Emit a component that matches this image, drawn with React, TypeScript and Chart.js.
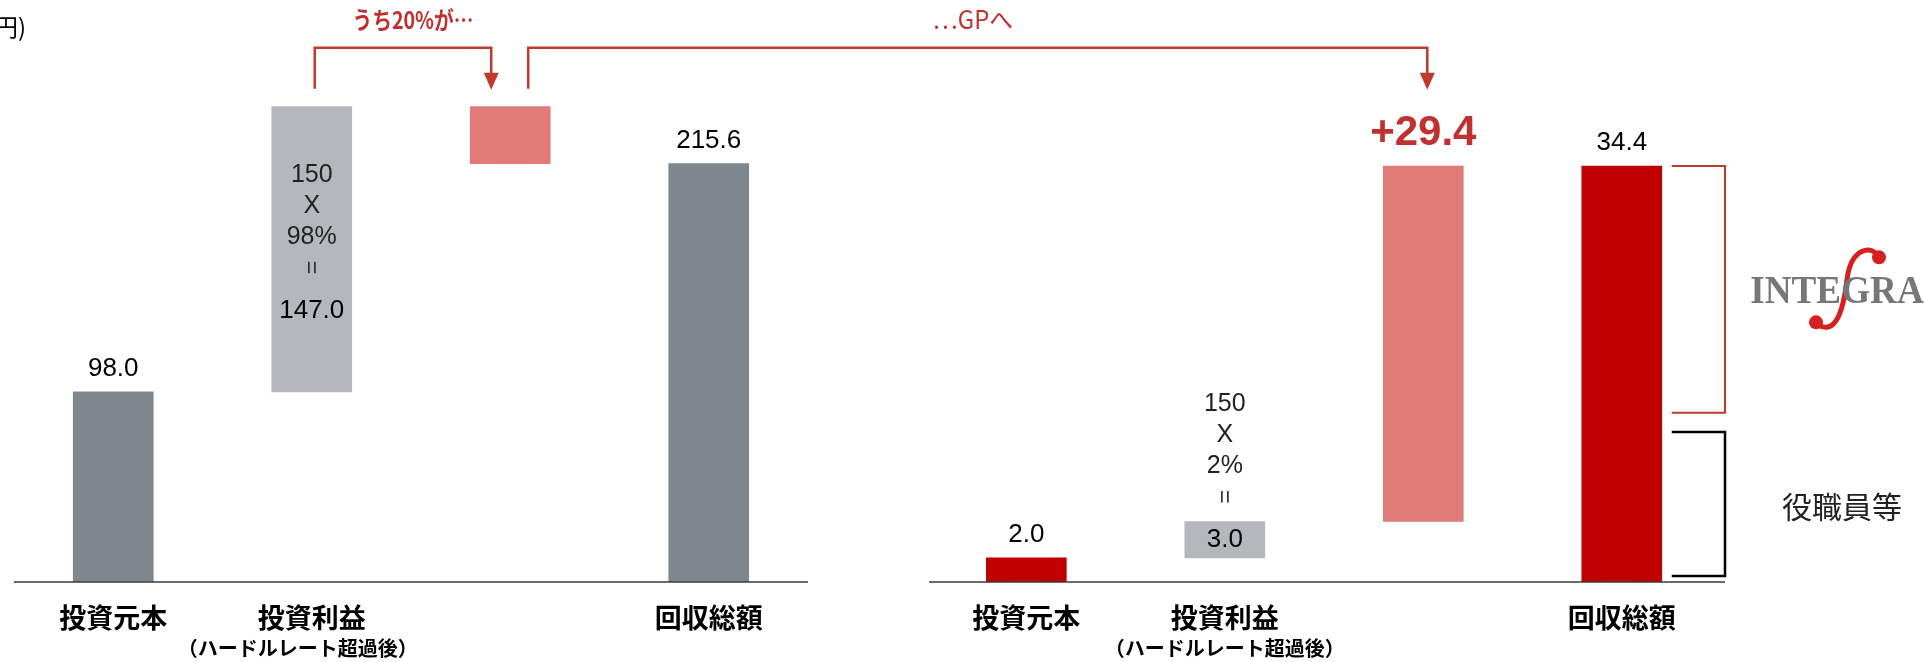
import React, { useEffect, useRef } from 'react';
import { Chart, registerables } from 'chart.js';

Chart.register(...registerables);

// ---- data ----
const leftLabels = ['投資元本', '投資利益', '', '回収総額'];
const rightLabels = ['投資元本', '投資利益', '', '回収総額'];
const subLabels = ['', '（ハードルレート超過後）', '', ''];
const leftX = [0, 1, 2, 3];
const rightX = [4.6, 5.6, 6.6, 7.6];
const leftFrom = [0, 98.0, 215.6, 0];
const leftTo = [98.0, 245.0, 245.0, 215.6];
const rightFrom = [0, 2.0, 5.0, 0];
const rightTo = [2.0, 5.0, 34.4, 34.4];
const leftColors = ['#7f878e', '#b4b7bb', '#e07b78', '#7f878e'];
const rightColors = ['#c00000', '#b4b7bb', '#e07b78', '#c00000'];
const leftValueLabels = ['98.0', '', '', '215.6'];
const rightValueLabels = ['2.0', '', '+29.4', '34.4'];
const leftFormula = ['150', 'X', '98%', '=', '147.0'];
const rightFormula = ['150', 'X', '2%', '=', '3.0'];
const integraRange = [14.0, 34.4];
const staffRange = [0.5, 12.4];
const unitLabel = '(億円)';
const noteLeft = 'うち20%が…';
const noteRight = '…GPへ';
const logoText = 'INTEGRA';
const staffText = '役職員等';

const tickPositions = [...leftX, ...rightX];
const tickLabels = [...leftLabels, ...rightLabels];
const tickSubLabels = [...subLabels, ...subLabels];
const subShift = [0, -14, 0, 0, 0, 0, 0, 0];

const CJK = '"Noto Sans CJK JP", "Noto Sans", sans-serif';
const NUM = '"Liberation Sans", Arial, sans-serif';
const RED_LINE = '#c0392b';
const RED_TEXT = '#c0302e';

const formulaOffsets = [-136, -105, -74, -43, 0];

function drawFormula(ctx: CanvasRenderingContext2D, lines: string[], cx: number, anchorY: number) {
  ctx.textAlign = 'center';
  ctx.textBaseline = 'middle';
  lines.forEach((t, i) => {
    const yy = anchorY + formulaOffsets[i];
    if (t === '=') {
      ctx.save();
      ctx.translate(cx, yy);
      ctx.rotate(Math.PI / 2);
      ctx.font = `24px ${NUM}`;
      ctx.fillStyle = '#333';
      ctx.fillText('=', 0, 1);
      ctx.restore();
    } else {
      const last = i === lines.length - 1;
      ctx.font = `${last ? 26 : 25}px ${NUM}`;
      ctx.fillStyle = last ? '#000' : '#222';
      ctx.fillText(t, cx, yy);
    }
  });
}

function squeezedText(ctx: CanvasRenderingContext2D, t: string, cx: number, cy: number, sx: number) {
  ctx.save();
  ctx.translate(cx, cy);
  ctx.scale(sx, 1);
  ctx.fillText(t, 0, 0);
  ctx.restore();
}

const annotations = {
  id: 'annotations',
  afterDraw(chart: any) {
    const { ctx, scales } = chart;
    const x = scales.x;
    const y = scales.y;
    const y2 = scales.y2;
    const lm = chart.getDatasetMeta(0).data;
    const rm = chart.getDatasetMeta(1).data;
    ctx.save();

    const line = (pts: number[][]) => {
      ctx.beginPath();
      ctx.moveTo(pts[0][0], pts[0][1]);
      for (let i = 1; i < pts.length; i++) ctx.lineTo(pts[i][0], pts[i][1]);
      ctx.stroke();
    };

    // baselines
    const base = y.getPixelForValue(0);
    ctx.strokeStyle = '#3a3a3a';
    ctx.lineWidth = 1.5;
    line([[x.getPixelForValue(-0.5), base], [x.getPixelForValue(3.5), base]]);
    line([[x.getPixelForValue(4.11), base], [x.getPixelForValue(8.12), base]]);

    // sub labels under ticks
    ctx.font = `bold 20px ${CJK}`;
    ctx.fillStyle = '#000';
    ctx.textAlign = 'center';
    ctx.textBaseline = 'middle';
    tickPositions.forEach((p, i) => {
      if (tickSubLabels[i]) ctx.fillText(tickSubLabels[i], x.getPixelForValue(p) + subShift[i], base + 66);
    });

    // value labels
    const drawVal = (el: any, t: string) => {
      if (!t) return;
      ctx.textAlign = 'center';
      ctx.textBaseline = 'alphabetic';
      if (t.startsWith('+')) {
        ctx.font = `bold 42px ${NUM}`;
        ctx.fillStyle = RED_TEXT;
        ctx.fillText(t, el.x, el.y - 21);
      } else {
        ctx.font = `26px ${NUM}`;
        ctx.fillStyle = '#000';
        ctx.fillText(t, el.x, el.y - 16);
      }
    };
    lm.forEach((el: any, i: number) => drawVal(el, leftValueLabels[i]));
    rm.forEach((el: any, i: number) => drawVal(el, rightValueLabels[i]));

    // formulas
    drawFormula(ctx, leftFormula, lm[1].x, lm[1].y + 204);
    drawFormula(ctx, rightFormula, rm[1].x, (rm[1].y + rm[1].base) / 2);

    // unit label
    ctx.font = `24px ${CJK}`;
    ctx.fillStyle = '#000';
    ctx.textAlign = 'right';
    ctx.textBaseline = 'middle';
    ctx.fillText(unitLabel, 26, 27);

    // arrows
    ctx.strokeStyle = RED_LINE;
    ctx.fillStyle = RED_LINE;
    ctx.lineWidth = 2.5;
    const yTop = lm[1].y - 59;
    const yStart = lm[1].y - 18;
    const tip = lm[2].y - 17;
    const xa = lm[1].x + 3;
    const xb = lm[2].x - 19;
    const xc = lm[2].x + 18;
    const xd = rm[2].x + 4;
    const head = (hx: number) => {
      ctx.beginPath();
      ctx.moveTo(hx - 7.5, tip - 17);
      ctx.lineTo(hx + 7.5, tip - 17);
      ctx.lineTo(hx, tip);
      ctx.closePath();
      ctx.fill();
    };
    line([[xa, yStart], [xa, yTop], [xb, yTop], [xb, tip - 15]]);
    head(xb);
    line([[xc, yStart], [xc, yTop], [xd, yTop], [xd, tip - 15]]);
    head(xd);

    ctx.textAlign = 'center';
    ctx.textBaseline = 'middle';
    ctx.fillStyle = RED_TEXT;
    ctx.font = `bold 24px ${CJK}`;
    squeezedText(ctx, noteLeft, (xa + xb) / 2 + 10, yTop - 28, 0.82);
    ctx.font = `25px ${CJK}`;
    squeezedText(ctx, noteRight, (xc + xd) / 2 - 5, yTop - 28, 0.95);

    // brackets
    const bxL = rm[3].x + 50;
    const bxR = x.getPixelForValue(8.12);
    const rTop = y2.getPixelForValue(integraRange[1]);
    const rBot = y2.getPixelForValue(integraRange[0]);
    const sTop = y2.getPixelForValue(staffRange[1]);
    const sBot = y2.getPixelForValue(staffRange[0]);
    ctx.strokeStyle = RED_LINE;
    ctx.lineWidth = 2;
    line([[bxL, rTop], [bxR, rTop], [bxR, rBot], [bxL, rBot]]);
    ctx.strokeStyle = '#000';
    ctx.lineWidth = 2.5;
    line([[bxL, sTop], [bxR, sTop], [bxR, sBot], [bxL, sBot]]);

    // logo
    const cx = bxR + 112;
    const cy = (rTop + rBot) / 2;
    ctx.strokeStyle = '#d42020';
    ctx.fillStyle = '#d42020';
    ctx.lineWidth = 5;
    ctx.lineCap = 'round';
    ctx.beginPath();
    ctx.moveTo(cx + 42, cy - 31);
    ctx.bezierCurveTo(cx + 36, cy - 46, cx + 14, cy - 42, cx + 10, cy - 10);
    ctx.bezierCurveTo(cx + 6, cy + 24, cx - 2, cy + 46, cx - 20, cy + 35);
    ctx.stroke();
    ctx.beginPath();
    ctx.arc(cx + 42, cy - 32, 7, 0, Math.PI * 2);
    ctx.fill();
    ctx.beginPath();
    ctx.arc(cx - 21, cy + 33, 7, 0, Math.PI * 2);
    ctx.fill();
    ctx.font = `bold 40px "Liberation Serif", "DejaVu Serif", serif`;
    ctx.fillStyle = '#777777';
    ctx.textAlign = 'center';
    ctx.textBaseline = 'alphabetic';
    squeezedText(ctx, logoText, cx, cy + 14, 0.93);

    // staff label
    ctx.font = `30px ${CJK}`;
    ctx.fillStyle = '#222';
    ctx.textAlign = 'center';
    ctx.textBaseline = 'middle';
    ctx.fillText(staffText, bxR + 117, (sTop + sBot) / 2 + 3);

    ctx.restore();
  },
};

export default function App() {
  const ref = useRef<HTMLCanvasElement>(null);
  useEffect(() => {
    const chart = new Chart(ref.current as HTMLCanvasElement, {
      type: 'bar',
      data: {
        datasets: [
          {
            data: leftX.map((v, i) => ({ x: v, y: [leftFrom[i], leftTo[i]] })) as any,
            backgroundColor: leftColors,
            yAxisID: 'y',
            xAxisID: 'x',
            barThickness: 80,
            grouped: false,
          },
          {
            data: rightX.map((v, i) => ({ x: v, y: [rightFrom[i], rightTo[i]] })) as any,
            backgroundColor: rightColors,
            yAxisID: 'y2',
            xAxisID: 'x',
            barThickness: 80,
            grouped: false,
          },
        ],
      },
      options: {
        animation: false,
        responsive: true,
        maintainAspectRatio: false,
        layout: { padding: { left: 14, right: 199, top: 62, bottom: 7.6 } },
        plugins: { legend: { display: false }, tooltip: { enabled: false } },
        scales: {
          x: {
            type: 'linear',
            min: -0.5,
            max: 8.12,
            offset: false,
            bounds: 'data',
            grid: { display: false, drawTicks: false, tickLength: 0 },
            border: { display: false },
            afterBuildTicks: (scale: any) => {
              scale.ticks = tickPositions.map((v) => ({ value: v }));
            },
            ticks: {
              autoSkip: false,
              maxRotation: 0,
              minRotation: 0,
              padding: 20,
              color: '#000',
              font: { family: CJK, size: 27, weight: 'bold' },
              callback: (_v: any, i: number) => tickLabels[i],
            },
          },
          y: {
            axis: 'y',
            display: false,
            min: 0,
            max: 268,
          },
          y2: {
            axis: 'y',
            display: false,
            min: 0,
            max: 43,
          },
        } as any,
      },
      plugins: [annotations],
    });
    return () => chart.destroy();
  }, []);
  return (
    <div style={{ position: 'absolute', left: 0, top: 0, width: 1924, height: 662, overflow: 'hidden', background: '#fff' }}>
      <canvas ref={ref} />
    </div>
  );
}
